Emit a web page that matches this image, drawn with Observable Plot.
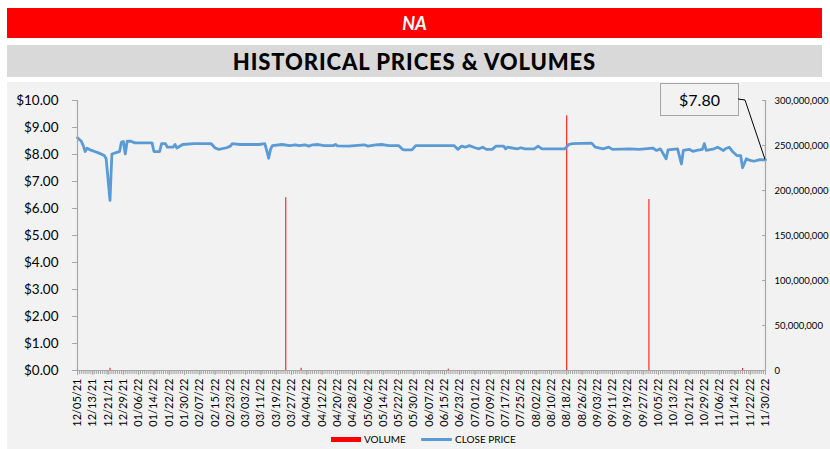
<!DOCTYPE html>
<html><head><meta charset="utf-8">
<script src="https://cdn.jsdelivr.net/npm/d3@7"></script>
<script src="https://cdn.jsdelivr.net/npm/@observablehq/plot@0.6"></script>
<style>
body{margin:0;width:830px;height:449px;position:relative;background:#fff;font-family:Lato,"Open Sans",sans-serif;overflow:hidden}
#banner{position:absolute;left:7px;top:8px;width:815px;height:30px;background:#ff0000;color:#fff;font-weight:bold;font-style:italic;font-size:18px;text-align:center;line-height:30px}
#title{position:absolute;left:7px;top:45px;width:815px;height:32px;background:#d9d9d9;font-weight:900;font-size:22px;text-align:center;line-height:33px;color:#000;letter-spacing:0.9px}
#panel{position:absolute;left:7px;top:82px;width:823px;height:367px;background:#f2f2f2}
#chart{position:absolute;left:0;top:82px}
#legend{position:absolute;top:432px;left:0;width:830px;height:14px;font-size:10px;color:#000}
.sw{position:absolute}
.lt{position:absolute;top:0;line-height:14px}
#callout{position:absolute;left:660px;top:83px;width:77px;height:31px;border:1px solid #a6a6a6;background:#f2f2f2;font-size:16px;text-align:center;line-height:31px;color:#000}
#leader{position:absolute;left:0;top:0}
</style>
</head><body>
<div id="banner">NA</div>
<div id="title">HISTORICAL PRICES &amp; VOLUMES</div>
<div id="panel"></div>
<div id="chart"></div>
<div id="legend">
  <div class="sw" style="left:331px;top:5px;width:30px;height:5px;background:#ff0000"></div>
  <div class="lt" style="left:364px">VOLUME</div>
  <div class="sw" style="left:421px;top:6px;width:31px;height:3px;background:#5b9bd5;border-radius:1px"></div>
  <div class="lt" style="left:455px">CLOSE PRICE</div>
</div>
<div id="callout"></div>
<script>
// ---- data ----
const priceDates = ["2021-12-05","2021-12-07","2021-12-08","2021-12-09","2021-12-10","2021-12-12","2021-12-14","2021-12-16","2021-12-19","2021-12-20","2021-12-22","2021-12-23","2021-12-26","2021-12-27","2021-12-28","2021-12-29","2021-12-30","2021-12-31","2022-01-02","2022-01-04","2022-01-13","2022-01-14","2022-01-17","2022-01-18","2022-01-20","2022-01-21","2022-01-24","2022-01-25","2022-01-26","2022-01-29","2022-02-04","2022-02-13","2022-02-15","2022-02-17","2022-02-21","2022-02-23","2022-02-24","2022-02-28","2022-03-10","2022-03-13","2022-03-14","2022-03-15","2022-03-16","2022-03-17","2022-03-22","2022-03-26","2022-03-29","2022-03-31","2022-04-03","2022-04-05","2022-04-07","2022-04-10","2022-04-13","2022-04-18","2022-04-19","2022-04-20","2022-04-26","2022-05-04","2022-05-06","2022-05-10","2022-05-13","2022-05-17","2022-05-22","2022-05-24","2022-05-25","2022-05-29","2022-05-31","2022-06-02","2022-06-20","2022-06-22","2022-06-24","2022-06-26","2022-06-28","2022-07-01","2022-07-03","2022-07-05","2022-07-07","2022-07-10","2022-07-12","2022-07-16","2022-07-17","2022-07-18","2022-07-23","2022-07-25","2022-07-27","2022-08-01","2022-08-03","2022-08-05","2022-08-17","2022-08-19","2022-08-21","2022-08-31","2022-09-02","2022-09-06","2022-09-09","2022-09-11","2022-09-20","2022-09-25","2022-10-02","2022-10-04","2022-10-06","2022-10-09","2022-10-10","2022-10-15","2022-10-17","2022-10-18","2022-10-21","2022-10-23","2022-10-25","2022-10-28","2022-10-29","2022-10-30","2022-11-03","2022-11-05","2022-11-08","2022-11-09","2022-11-11","2022-11-13","2022-11-15","2022-11-17","2022-11-18","2022-11-20","2022-11-22","2022-11-24","2022-11-27","2022-11-30"];
const closePrices = [8.62,8.49,8.33,8.11,8.23,8.16,8.11,8.06,7.96,7.84,6.30,8.02,8.09,8.11,8.46,8.48,8.02,8.49,8.49,8.43,8.43,8.11,8.11,8.40,8.40,8.27,8.27,8.37,8.24,8.37,8.40,8.40,8.24,8.19,8.25,8.31,8.40,8.37,8.37,8.40,8.15,7.86,8.19,8.33,8.37,8.33,8.36,8.33,8.36,8.31,8.36,8.37,8.33,8.33,8.37,8.32,8.31,8.36,8.31,8.36,8.37,8.33,8.33,8.19,8.17,8.17,8.33,8.33,8.33,8.19,8.31,8.27,8.33,8.25,8.21,8.27,8.19,8.19,8.31,8.31,8.21,8.27,8.21,8.25,8.21,8.21,8.31,8.21,8.21,8.37,8.40,8.42,8.27,8.21,8.27,8.19,8.21,8.19,8.24,8.15,8.21,7.84,8.17,8.21,7.65,8.15,8.19,8.12,8.15,8.19,8.40,8.15,8.21,8.27,8.15,8.21,8.27,8.09,7.96,7.96,7.51,7.84,7.78,7.75,7.81,7.80];
const volumeDates = ["2021-12-22","2022-03-24","2022-04-01","2022-06-17","2022-08-18","2022-09-30","2022-11-18"];
const volumes = [2500000,192000000,2500000,1500000,283000000,190000000,2000000];
const priceTicks = [0,1,2,3,4,5,6,7,8,9,10];
const volumeTicks = [0,50000000,100000000,150000000,200000000,250000000,300000000];
const dateTicks = ["2021-12-05","2021-12-13","2021-12-21","2021-12-29","2022-01-06","2022-01-14","2022-01-22","2022-01-30","2022-02-07","2022-02-15","2022-02-23","2022-03-03","2022-03-11","2022-03-19","2022-03-27","2022-04-04","2022-04-12","2022-04-20","2022-04-28","2022-05-06","2022-05-14","2022-05-22","2022-05-30","2022-06-07","2022-06-15","2022-06-23","2022-07-01","2022-07-09","2022-07-17","2022-07-25","2022-08-02","2022-08-10","2022-08-18","2022-08-26","2022-09-03","2022-09-11","2022-09-19","2022-09-27","2022-10-05","2022-10-13","2022-10-21","2022-10-29","2022-11-06","2022-11-14","2022-11-22","2022-11-30"];
const volumeMax = 300000000, priceMax = 10;

// ---- build ----
const prices = priceDates.map((d,i)=>({date:new Date(d), price:closePrices[i]}));
const vols = volumeDates.map((d,i)=>({date:new Date(d), volume:volumes[i]}));
const ratio = volumeMax/priceMax;
const x0 = new Date(dateTicks[0]), x1 = new Date(dateTicks[dateTicks.length-1]);
const axisGray = "#a6a6a6";

const chart = Plot.plot({
  width:830, height:350,
  marginLeft:77, marginRight:65, marginTop:18, marginBottom:62,
  style:{background:"transparent", fontFamily:"Lato, 'Open Sans', sans-serif", color:"#000"},
  x:{type:"utc", domain:[x0,x1]},
  y:{domain:[0,priceMax]},
  marks:[
    Plot.ruleX(vols,{x:"date", y1:0, y2:d=>d.volume/ratio, stroke:"#ff0000", strokeWidth:1}),
    Plot.line(prices,{x:"date", y:"price", stroke:"#5b9bd5", strokeWidth:2.8, curve:"linear"}),
    Plot.ruleY([0],{stroke:axisGray, strokeWidth:1.2}),
    Plot.ruleX([x0],{stroke:axisGray, strokeWidth:1.2}),
    Plot.ruleX([x1],{stroke:axisGray, strokeWidth:1.2}),
    Plot.axisY({ticks:priceTicks, tickFormat:d=>"$"+d.toFixed(2), tickSize:5, tickPadding:14, stroke:axisGray, fill:"#000", fontSize:13.5, label:null}),
    Plot.axisY({anchor:"right", ticks:volumeTicks.map(v=>v/ratio), tickFormat:d=>d3.format(",")(Math.round(d*ratio)), tickSize:0, tickPadding:9, fill:"#000", fontSize:9.5, label:null}),
    Plot.ruleY(volumeTicks,{y:d=>d/ratio, x1:new Date(+x1 - 1.5*864e5), x2:x1, stroke:axisGray, strokeWidth:1}),
    Plot.axisX({ticks:d3.utcDay.range(x0, new Date(+x1+864e5)), tickSize:4, tickFormat:()=>"", stroke:axisGray, label:null}),
    Plot.axisX({ticks:dateTicks.map(d=>new Date(d)), tickFormat:d3.utcFormat("%m/%d/%y"), tickRotate:-90, tickSize:5, tickPadding:3, stroke:axisGray, fill:"#000", fontSize:11, label:null})
  ]
});
document.getElementById("chart").appendChild(chart);

// callout for last close
const last = prices[prices.length-1];
document.getElementById("callout").textContent = "$"+last.price.toFixed(2);
const px = chart.scale("x").apply(last.date);
const py = chart.scale("y").apply(last.price) + 82;
const ns = "http://www.w3.org/2000/svg";
const svg = document.createElementNS(ns,"svg");
svg.setAttribute("id","leader"); svg.setAttribute("width",830); svg.setAttribute("height",449);
const pl = document.createElementNS(ns,"polyline");
pl.setAttribute("points", `738,99 745,100 ${px},${py}`);
pl.setAttribute("fill","none"); pl.setAttribute("stroke","#000"); pl.setAttribute("stroke-width","1");
svg.appendChild(pl);
document.body.appendChild(svg);
</script>
</body></html>
